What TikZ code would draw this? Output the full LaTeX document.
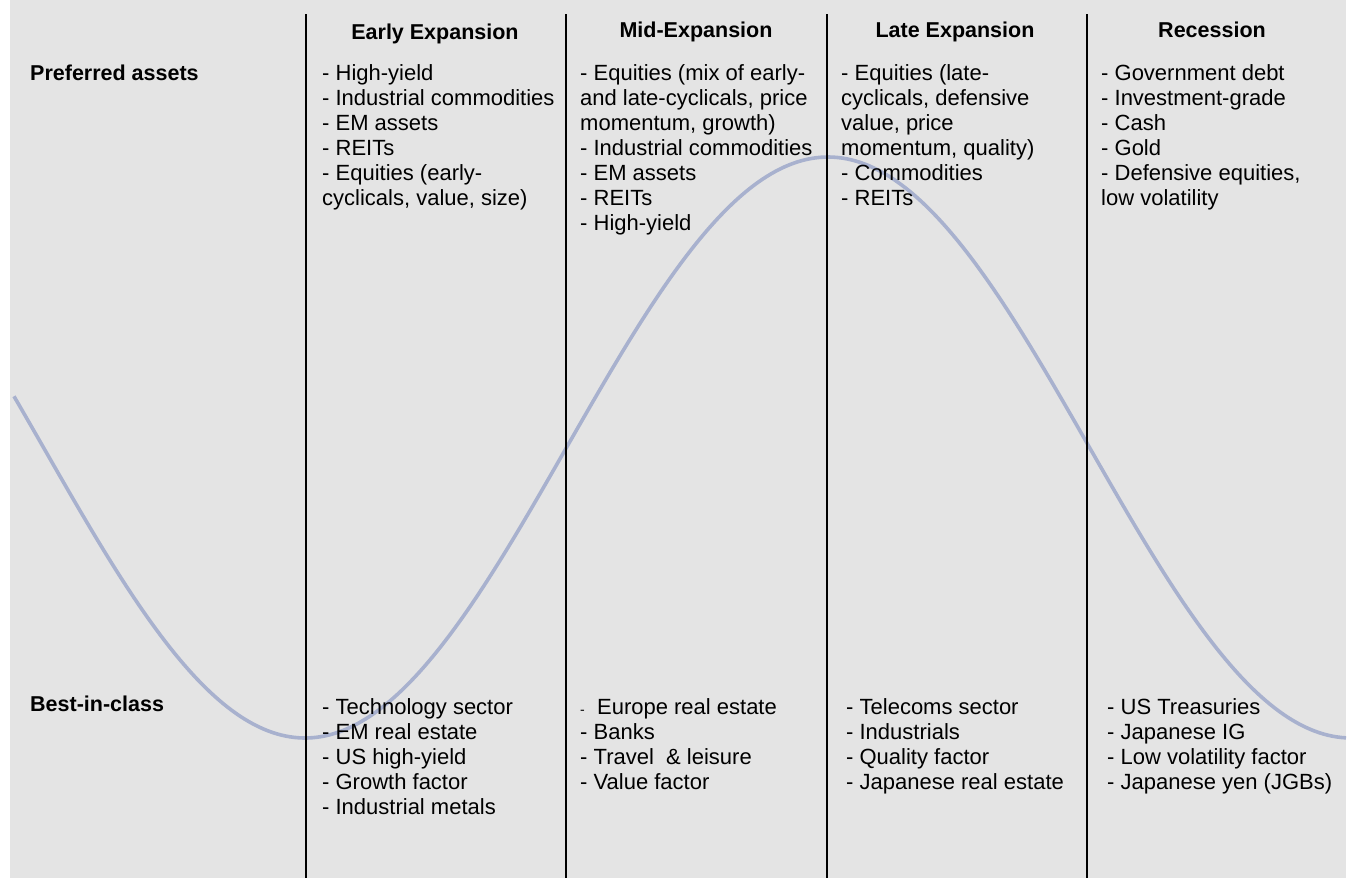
\documentclass[tikz,border=0pt]{standalone}
\usepackage{fontspec}
\setmainfont{Liberation Sans}
\definecolor{bgray}{RGB}{228,228,228}
\definecolor{curvecol}{RGB}{168,177,206}
\begin{document}
\begin{tikzpicture}[x=1pt,y=-1pt,
  txt/.style={inner sep=0pt, anchor=base west, font=\fontsize{22}{25}\selectfont},
  hdr/.style={inner sep=0pt, anchor=base, font=\bfseries\fontsize{21.5}{25}\selectfont},
  rowlab/.style={inner sep=0pt, anchor=base west, font=\bfseries\fontsize{21.5}{25}\selectfont},
  sepline/.style={draw=black, line width=1.5pt},
  cycle line/.style={draw=curvecol, line width=3.6pt}]
\useasboundingbox (0,0) rectangle (1356,878);
\fill[white] (0,0) rectangle (1356,878);
\fill[bgray] (10,0) rectangle (1346,878);
% business cycle curve
\draw[cycle line] plot[domain=14:1346,samples=300] (\x,{447.5+290.5*cos((\x-305)*0.344168)});
% column separators
\foreach \n/\xx in {1/306,2/566,3/827,4/1087}{
  \coordinate (t\n) at (\xx,14);
  \coordinate (b\n) at (\xx,878);
  \draw[sepline] (t\n) -- (b\n);
}
% headers
\node[hdr] (h1) at (435,39) {Early Expansion};
\node[hdr] (h2) at (696,37) {Mid-Expansion};
\node[hdr] (h3) at (955,37) {Late Expansion};
\node[hdr] (h4) at (1212,37) {Recession};
% row labels
\node[rowlab] (pa) at (30,80) {Preferred assets};
\node[rowlab] (bc) at (30,711) {Best-in-class};
% preferred assets
\foreach \t [count=\i] in {- High-yield,- Industrial commodities,- EM assets,- REITs,- Equities (early-,{cyclicals, value, size)}}
  \node[txt] (pa1-\i) at (322,{55+25*\i}) {\t};
\foreach \t [count=\i] in {- Equities (mix of early-,{and late-cyclicals, price},{momentum, growth)},- Industrial commodities,- EM assets,- REITs,- High-yield}
  \node[txt] (pa2-\i) at (580,{55+25*\i}) {\t};
\foreach \t [count=\i] in {- Equities (late-,{cyclicals, defensive},{value, price},{momentum, quality)},- Commodities,- REITs}
  \node[txt] (pa3-\i) at (841,{55+25*\i}) {\t};
\foreach \t [count=\i] in {- Government debt,- Investment-grade,- Cash,- Gold,{- Defensive equities,},low volatility}
  \node[txt] (pa4-\i) at (1101,{55+25*\i}) {\t};
% best in class
\foreach \t [count=\i] in {- Technology sector,- EM real estate,- US high-yield,- Growth factor,- Industrial metals}
  \node[txt] (bc1-\i) at (322,{689+25*\i}) {\t};
\foreach \t [count=\i] in {{{\fontsize{14}{25}\selectfont-}\ \ Europe real estate},- Banks,{- Travel\ \ \& leisure},- Value factor}
  \node[txt] (bc2-\i) at (580,{689+25*\i}) {\t};
\foreach \t [count=\i] in {- Telecoms sector,- Industrials,- Quality factor,- Japanese real estate}
  \node[txt] (bc3-\i) at (846,{689+25*\i}) {\t};
\foreach \t [count=\i] in {- US Treasuries,- Japanese IG,- Low volatility factor,- Japanese yen (JGBs)}
  \node[txt] (bc4-\i) at (1107,{689+25*\i}) {\t};
\end{tikzpicture}
\end{document}
